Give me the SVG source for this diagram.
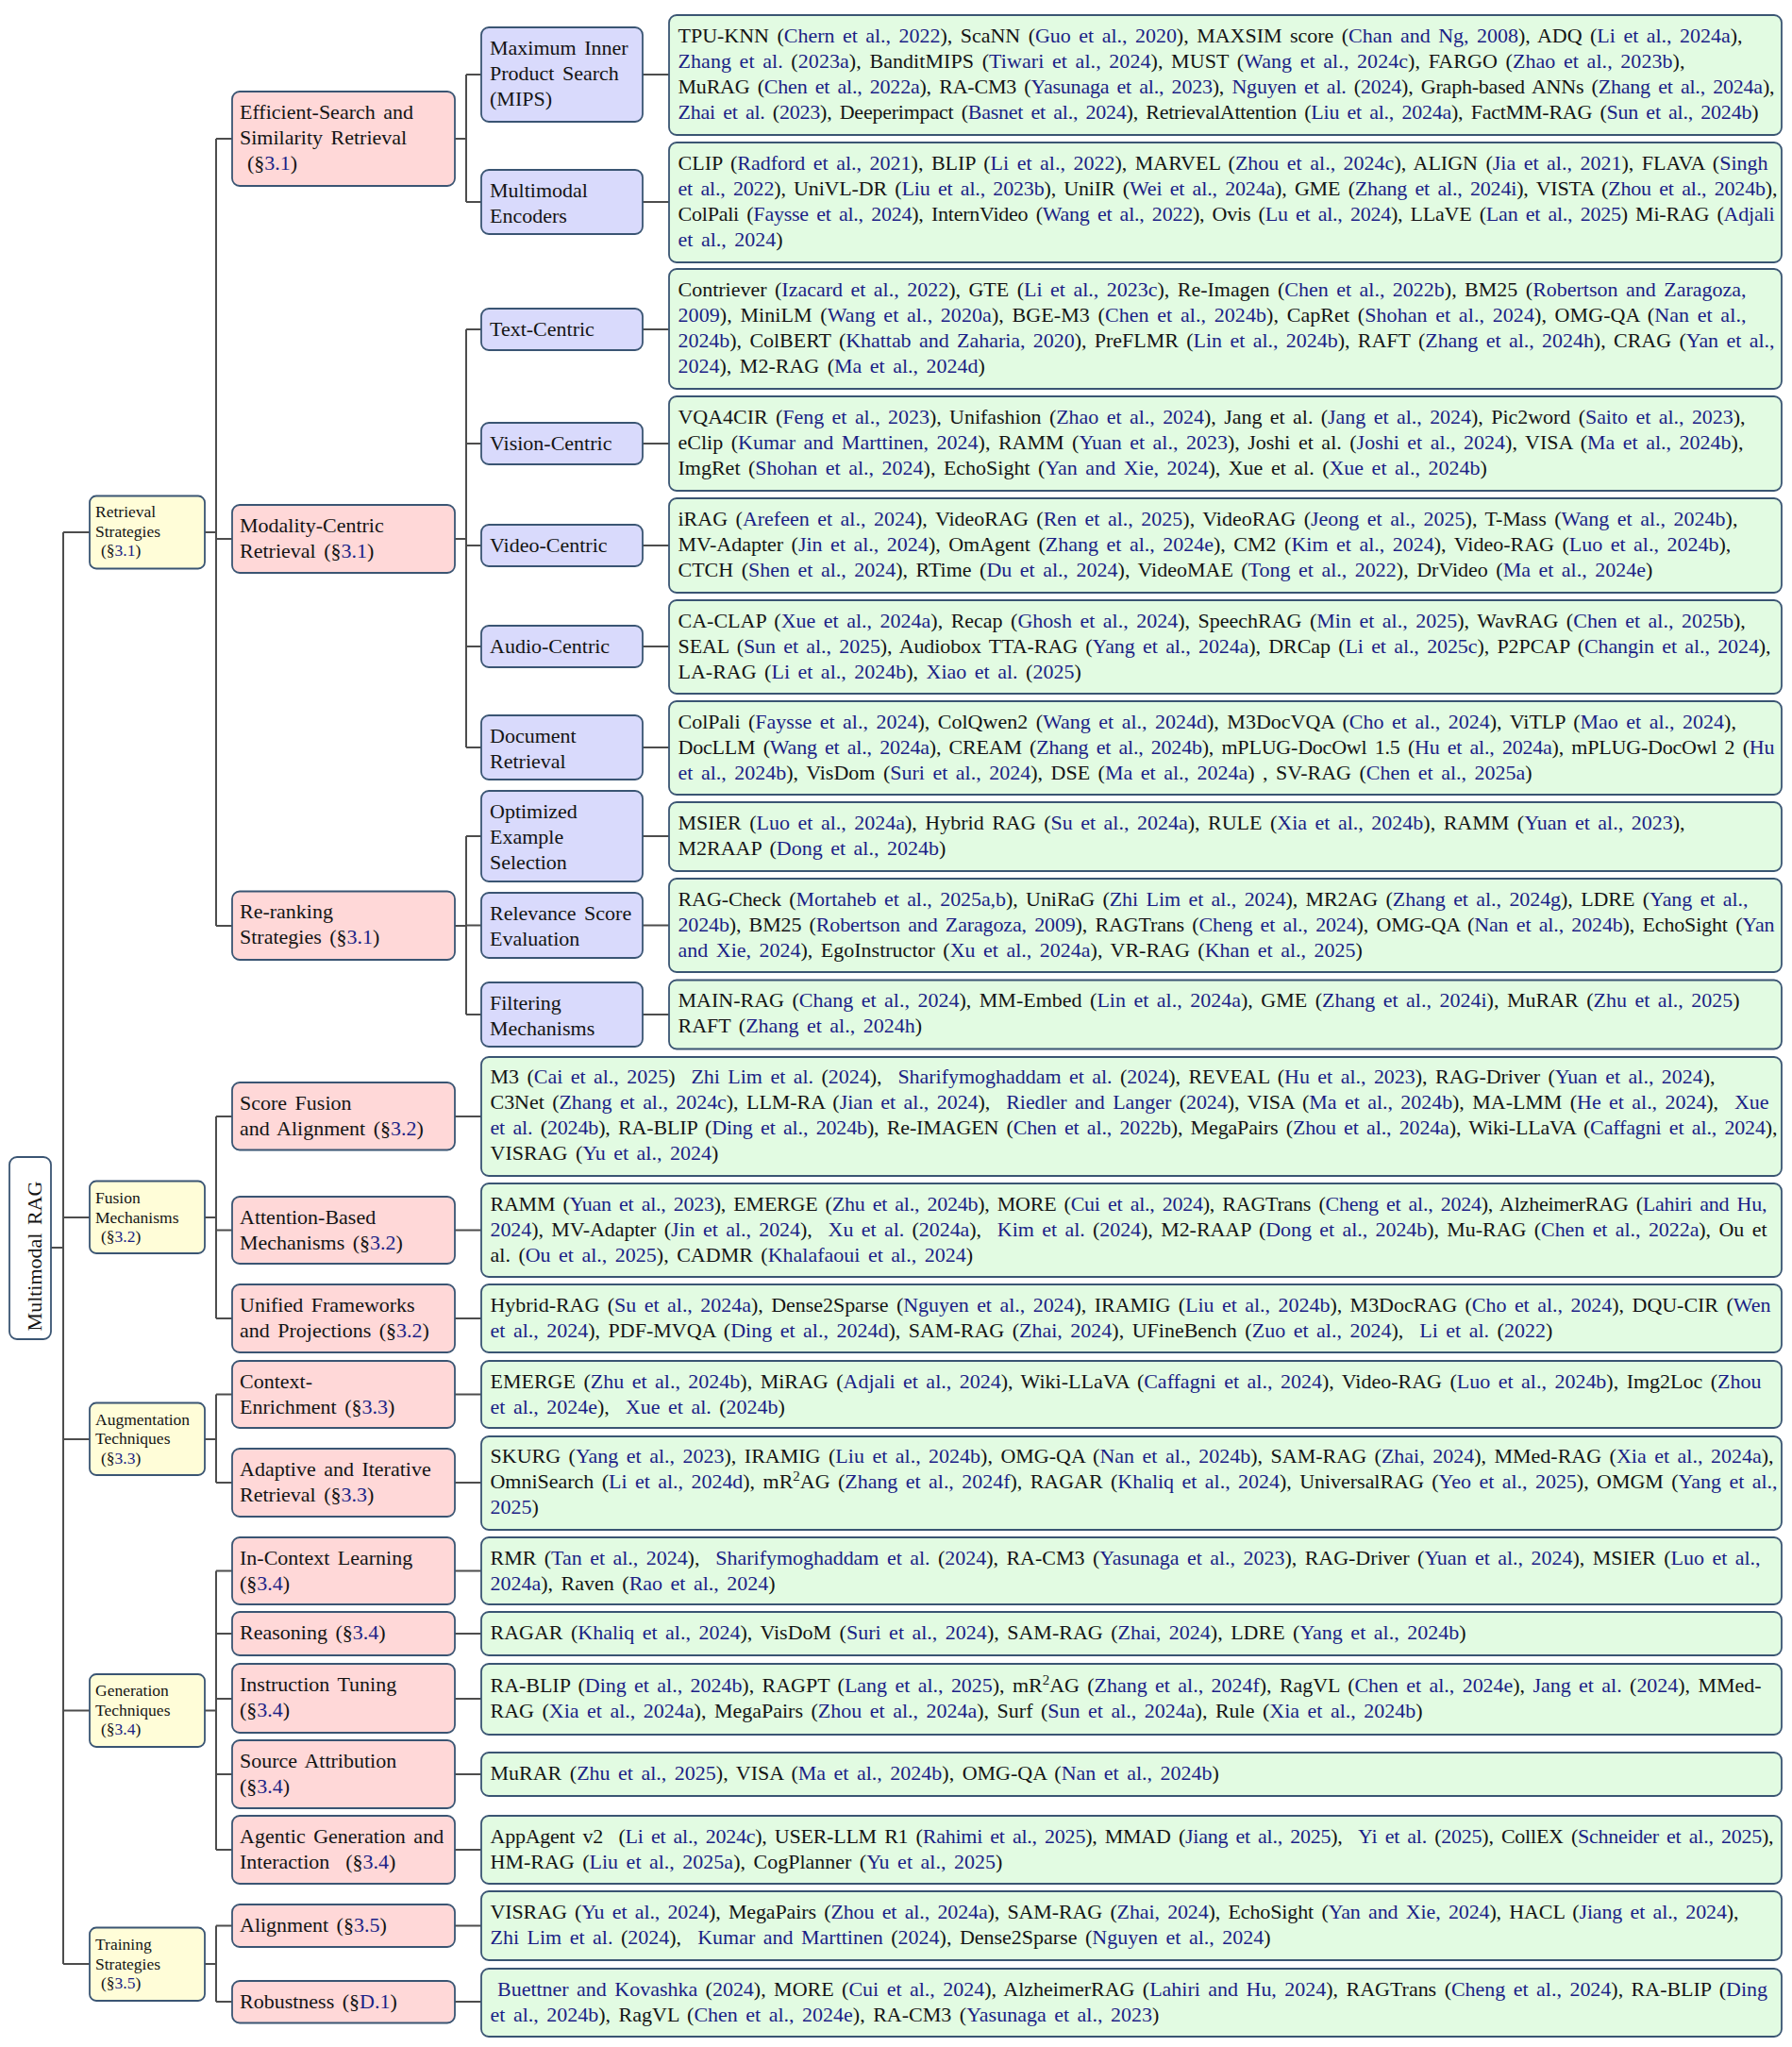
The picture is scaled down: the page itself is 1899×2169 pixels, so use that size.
<svg xmlns="http://www.w3.org/2000/svg" width="1899" height="2169" viewBox="0 0 1899 2169" xml:space="preserve">
<style>
.n rect { stroke: #3a5573; stroke-width: 1.8; }
.root rect { fill: #ffffff; }
.l1 rect { fill: #fffdd8; }
.l2 rect { fill: #ffd8d8; }
.l3 rect { fill: #d9dafc; }
.lf rect { fill: #e2fbe2; }
text { font-family: "Liberation Serif", "Times New Roman", serif; fill: #141414; font-size: 22px; word-spacing: 3px; }
.l1 text { font-size: 17.5px; word-spacing: 1px; }
.c { fill: #1b1f86; }
#connectors path { fill: none; stroke: #4d4d4d; stroke-width: 2; }
</style>
<rect width="1899" height="2169" fill="#ffffff"/>

<!-- tree connectors -->
<g id="connectors">
<path d="M54 1322 H67 M67 564 V2081 M67 564 H95 M67 1290 H95 M67 1525 H95 M67 1812.5 H95 M67 2081 H95"/>
<path d="M217 564 H229 M229 147 V981 M229 147 H246 M229 571 H246 M229 981 H246"/>
<path d="M217 1290 H229 M229 1183 V1397 M229 1183 H246 M229 1303.5 H246 M229 1397 H246"/>
<path d="M217 1525 H229 M229 1477.5 V1571 M229 1477.5 H246 M229 1571 H246"/>
<path d="M217 1812.5 H229 M229 1664.5 V1960 M229 1664.5 H246 M229 1731 H246 M229 1800 H246 M229 1880 H246 M229 1960 H246"/>
<path d="M217 2081 H229 M229 2040.5 V2121 M229 2040.5 H246 M229 2121 H246"/>
<path d="M482 147 H494 M494 79 V214 M494 79 H510 M494 214 H510"/>
<path d="M482 571 H494 M494 349 V792 M494 349 H510 M494 470 H510 M494 578 H510 M494 685 H510 M494 792 H510"/>
<path d="M482 981 H494 M494 886 V1075 M494 886 H510 M494 980.5 H510 M494 1075 H510"/>
<path d="M681 79 H709 M681 214 H709 M681 349 H709 M681 470 H709 M681 578 H709 M681 685 H709 M681 792 H709 M681 886 H709 M681 980.5 H709 M681 1075 H709"/>
<path d="M482 1183 H510 M482 1303.5 H510 M482 1397 H510 M482 1477.5 H510 M482 1571 H510 M482 1664.5 H510 M482 1731 H510 M482 1800 H510 M482 1880 H510 M482 1960 H510 M482 2040.5 H510 M482 2121 H510"/>
</g>

<!-- root -->
<g id="root" class="n root">
<rect x="10" y="1226" width="44" height="193" rx="8"/>
<text transform="translate(43.5,1331) rotate(-90)" text-anchor="middle">Multimodal RAG</text>
</g>

<!-- level 1 -->
<g id="retrieval-strategies" class="n l1">
<rect x="95" y="525.5" width="122" height="77" rx="7"/>
<text x="101" y="548">Retrieval</text>
<text x="101" y="568.5">Strategies</text>
<text x="107" y="589">(§<tspan class="c">3.1</tspan>)</text>
</g>
<g id="fusion-mechanisms" class="n l1">
<rect x="95" y="1251.5" width="122" height="76.5" rx="7"/>
<text x="101" y="1275">Fusion</text>
<text x="101" y="1295.5">Mechanisms</text>
<text x="107" y="1316">(§<tspan class="c">3.2</tspan>)</text>
</g>
<g id="augmentation-techniques" class="n l1">
<rect x="95" y="1486.5" width="122" height="76.5" rx="7"/>
<text x="101" y="1509.5">Augmentation</text>
<text x="101" y="1530">Techniques</text>
<text x="107" y="1550.5">(§<tspan class="c">3.3</tspan>)</text>
</g>
<g id="generation-techniques" class="n l1">
<rect x="95" y="1774" width="122" height="77" rx="7"/>
<text x="101" y="1797">Generation</text>
<text x="101" y="1817.5">Techniques</text>
<text x="107" y="1838">(§<tspan class="c">3.4</tspan>)</text>
</g>
<g id="training-strategies" class="n l1">
<rect x="95" y="2042.5" width="122" height="77.5" rx="7"/>
<text x="101" y="2066">Training</text>
<text x="101" y="2086.5">Strategies</text>
<text x="107" y="2107">(§<tspan class="c">3.5</tspan>)</text>
</g>

<!-- level 2 -->
<g id="efficient-search" class="n l2">
<rect x="246" y="97" width="236" height="100" rx="8"/>
<text x="254" y="125.5">Efficient-Search and</text>
<text x="254" y="152.5">Similarity Retrieval</text>
<text x="262" y="179.5">(§<tspan class="c">3.1</tspan>)</text>
</g>
<g id="modality-centric" class="n l2">
<rect x="246" y="535" width="236" height="72" rx="8"/>
<text x="254" y="563.5">Modality-Centric</text>
<text x="254" y="590.5">Retrieval (§<tspan class="c">3.1</tspan>)</text>
</g>
<g id="re-ranking" class="n l2">
<rect x="246" y="944.5" width="236" height="72.5" rx="8"/>
<text x="254" y="973">Re-ranking</text>
<text x="254" y="1000">Strategies (§<tspan class="c">3.1</tspan>)</text>
</g>
<g id="score-fusion" class="n l2">
<rect x="246" y="1147" width="236" height="71.5" rx="8"/>
<text x="254" y="1175.5">Score Fusion</text>
<text x="254" y="1202.5">and Alignment (§<tspan class="c">3.2</tspan>)</text>
</g>
<g id="attention-based" class="n l2">
<rect x="246" y="1268" width="236" height="71" rx="8"/>
<text x="254" y="1296.5">Attention-Based</text>
<text x="254" y="1323.5">Mechanisms (§<tspan class="c">3.2</tspan>)</text>
</g>
<g id="unified-frameworks" class="n l2">
<rect x="246" y="1361" width="236" height="72" rx="8"/>
<text x="254" y="1389.5">Unified Frameworks</text>
<text x="254" y="1416.5">and Projections (§<tspan class="c">3.2</tspan>)</text>
</g>
<g id="context-enrichment" class="n l2">
<rect x="246" y="1442" width="236" height="71" rx="8"/>
<text x="254" y="1470.5">Context-</text>
<text x="254" y="1497.5">Enrichment (§<tspan class="c">3.3</tspan>)</text>
</g>
<g id="adaptive-retrieval" class="n l2">
<rect x="246" y="1535" width="236" height="72" rx="8"/>
<text x="254" y="1563.5">Adaptive and Iterative</text>
<text x="254" y="1590.5">Retrieval (§<tspan class="c">3.3</tspan>)</text>
</g>
<g id="in-context-learning" class="n l2">
<rect x="246" y="1629" width="236" height="71" rx="8"/>
<text x="254" y="1657.5">In-Context Learning</text>
<text x="254" y="1684.5">(§<tspan class="c">3.4</tspan>)</text>
</g>
<g id="reasoning" class="n l2">
<rect x="246" y="1708" width="236" height="46" rx="8"/>
<text x="254" y="1737">Reasoning (§<tspan class="c">3.4</tspan>)</text>
</g>
<g id="instruction-tuning" class="n l2">
<rect x="246" y="1763" width="236" height="73" rx="8"/>
<text x="254" y="1791.5">Instruction Tuning</text>
<text x="254" y="1818.5">(§<tspan class="c">3.4</tspan>)</text>
</g>
<g id="source-attribution" class="n l2">
<rect x="246" y="1844" width="236" height="72" rx="8"/>
<text x="254" y="1872.5">Source Attribution</text>
<text x="254" y="1899.5">(§<tspan class="c">3.4</tspan>)</text>
</g>
<g id="agentic-generation" class="n l2">
<rect x="246" y="1924" width="236" height="72" rx="8"/>
<text x="254" y="1952.5">Agentic Generation and</text>
<text x="254" y="1979.5">Interaction &#160;(§<tspan class="c">3.4</tspan>)</text>
</g>
<g id="alignment" class="n l2">
<rect x="246" y="2018" width="236" height="45" rx="8"/>
<text x="254" y="2047">Alignment (§<tspan class="c">3.5</tspan>)</text>
</g>
<g id="robustness" class="n l2">
<rect x="246" y="2099" width="236" height="44.5" rx="8"/>
<text x="254" y="2128">Robustness (§<tspan class="c">D.1</tspan>)</text>
</g>

<!-- level 3 -->
<g id="mips" class="n l3">
<rect x="510" y="29" width="171" height="100" rx="8"/>
<text x="519" y="57.5">Maximum Inner</text>
<text x="519" y="84.5">Product Search</text>
<text x="519" y="111.5">(MIPS)</text>
</g>
<g id="multimodal-encoders" class="n l3">
<rect x="510" y="180" width="171" height="68" rx="8"/>
<text x="519" y="208.5">Multimodal</text>
<text x="519" y="235.5">Encoders</text>
</g>
<g id="text-centric" class="n l3">
<rect x="510" y="327" width="171" height="44" rx="8"/>
<text x="519" y="356">Text-Centric</text>
</g>
<g id="vision-centric" class="n l3">
<rect x="510" y="448" width="171" height="44" rx="8"/>
<text x="519" y="477">Vision-Centric</text>
</g>
<g id="video-centric" class="n l3">
<rect x="510" y="556" width="171" height="44" rx="8"/>
<text x="519" y="585">Video-Centric</text>
</g>
<g id="audio-centric" class="n l3">
<rect x="510" y="663" width="171" height="44" rx="8"/>
<text x="519" y="692">Audio-Centric</text>
</g>
<g id="document-retrieval" class="n l3">
<rect x="510" y="758" width="171" height="68" rx="8"/>
<text x="519" y="786.5">Document</text>
<text x="519" y="813.5">Retrieval</text>
</g>
<g id="optimized-example" class="n l3">
<rect x="510" y="838" width="171" height="96" rx="8"/>
<text x="519" y="866.5">Optimized</text>
<text x="519" y="893.5">Example</text>
<text x="519" y="920.5">Selection</text>
</g>
<g id="relevance-score" class="n l3">
<rect x="510" y="946" width="171" height="69" rx="8"/>
<text x="519" y="974.5">Relevance Score</text>
<text x="519" y="1001.5">Evaluation</text>
</g>
<g id="filtering" class="n l3">
<rect x="510" y="1041" width="171" height="68" rx="8"/>
<text x="519" y="1069.5">Filtering</text>
<text x="519" y="1096.5">Mechanisms</text>
</g>

<!-- leaves: method lists -->
<g id="leaf-mips" class="n lf">
<rect x="709" y="16" width="1179" height="127" rx="8"/>
<text x="718.5" y="44.5" textLength="1128">TPU-KNN (<tspan class="c">Chern et al., 2022</tspan>), ScaNN (<tspan class="c">Guo et al., 2020</tspan>), MAXSIM score (<tspan class="c">Chan and Ng, 2008</tspan>), ADQ (<tspan class="c">Li et al., 2024a</tspan>),</text>
<text x="718.5" y="71.5" textLength="1067"><tspan class="c">Zhang et al.</tspan> (<tspan class="c">2023a</tspan>), BanditMIPS (<tspan class="c">Tiwari et al., 2024</tspan>), MUST (<tspan class="c">Wang et al., 2024c</tspan>), FARGO (<tspan class="c">Zhao et al., 2023b</tspan>),</text>
<text x="718.5" y="98.5" textLength="1162">MuRAG (<tspan class="c">Chen et al., 2022a</tspan>), RA-CM3 (<tspan class="c">Yasunaga et al., 2023</tspan>), <tspan class="c">Nguyen et al.</tspan> (<tspan class="c">2024</tspan>), Graph-based ANNs (<tspan class="c">Zhang et al., 2024a</tspan>),</text>
<text x="718.5" y="125.5" textLength="1145"><tspan class="c">Zhai et al.</tspan> (<tspan class="c">2023</tspan>), Deeperimpact (<tspan class="c">Basnet et al., 2024</tspan>), RetrievalAttention (<tspan class="c">Liu et al., 2024a</tspan>), FactMM-RAG (<tspan class="c">Sun et al., 2024b</tspan>)</text>
</g>
<g id="leaf-encoders" class="n lf">
<rect x="709" y="151" width="1179" height="127" rx="8"/>
<text x="718.5" y="179.5" textLength="1155">CLIP (<tspan class="c">Radford et al., 2021</tspan>), BLIP (<tspan class="c">Li et al., 2022</tspan>), MARVEL (<tspan class="c">Zhou et al., 2024c</tspan>), ALIGN (<tspan class="c">Jia et al., 2021</tspan>), FLAVA (<tspan class="c">Singh</tspan></text>
<text x="718.5" y="206.5" textLength="1165"><tspan class="c">et al., 2022</tspan>), UniVL-DR (<tspan class="c">Liu et al., 2023b</tspan>), UniIR (<tspan class="c">Wei et al., 2024a</tspan>), GME (<tspan class="c">Zhang et al., 2024i</tspan>), VISTA (<tspan class="c">Zhou et al., 2024b</tspan>),</text>
<text x="718.5" y="233.5" textLength="1162">ColPali (<tspan class="c">Faysse et al., 2024</tspan>), InternVideo (<tspan class="c">Wang et al., 2022</tspan>), Ovis (<tspan class="c">Lu et al., 2024</tspan>), LLaVE (<tspan class="c">Lan et al., 2025</tspan>) Mi-RAG (<tspan class="c">Adjali</tspan></text>
<text x="718.5" y="260.5"><tspan class="c">et al., 2024</tspan>)</text>
</g>
<g id="leaf-text-centric" class="n lf">
<rect x="709" y="285" width="1179" height="127" rx="8"/>
<text x="718.5" y="313.5" textLength="1132">Contriever (<tspan class="c">Izacard et al., 2022</tspan>), GTE (<tspan class="c">Li et al., 2023c</tspan>), Re-Imagen (<tspan class="c">Chen et al., 2022b</tspan>), BM25 (<tspan class="c">Robertson and Zaragoza,</tspan></text>
<text x="718.5" y="340.5" textLength="1132"><tspan class="c">2009</tspan>), MiniLM (<tspan class="c">Wang et al., 2020a</tspan>), BGE-M3 (<tspan class="c">Chen et al., 2024b</tspan>), CapRet (<tspan class="c">Shohan et al., 2024</tspan>), OMG-QA (<tspan class="c">Nan et al.,</tspan></text>
<text x="718.5" y="367.5" textLength="1162"><tspan class="c">2024b</tspan>), ColBERT (<tspan class="c">Khattab and Zaharia, 2020</tspan>), PreFLMR (<tspan class="c">Lin et al., 2024b</tspan>), RAFT (<tspan class="c">Zhang et al., 2024h</tspan>), CRAG (<tspan class="c">Yan et al.,</tspan></text>
<text x="718.5" y="394.5"><tspan class="c">2024</tspan>), M2-RAG (<tspan class="c">Ma et al., 2024d</tspan>)</text>
</g>
<g id="leaf-vision-centric" class="n lf">
<rect x="709" y="420" width="1179" height="100" rx="8"/>
<text x="718.5" y="448.5" textLength="1131">VQA4CIR (<tspan class="c">Feng et al., 2023</tspan>), Unifashion (<tspan class="c">Zhao et al., 2024</tspan>), Jang et al. (<tspan class="c">Jang et al., 2024</tspan>), Pic2word (<tspan class="c">Saito et al., 2023</tspan>),</text>
<text x="718.5" y="475.5">eClip (<tspan class="c">Kumar and Marttinen, 2024</tspan>), RAMM (<tspan class="c">Yuan et al., 2023</tspan>), Joshi et al. (<tspan class="c">Joshi et al., 2024</tspan>), VISA (<tspan class="c">Ma et al., 2024b</tspan>),</text>
<text x="718.5" y="502.5">ImgRet (<tspan class="c">Shohan et al., 2024</tspan>), EchoSight (<tspan class="c">Yan and Xie, 2024</tspan>), Xue et al. (<tspan class="c">Xue et al., 2024b</tspan>)</text>
</g>
<g id="leaf-video-centric" class="n lf">
<rect x="709" y="528" width="1179" height="100" rx="8"/>
<text x="718.5" y="556.5">iRAG (<tspan class="c">Arefeen et al., 2024</tspan>), VideoRAG (<tspan class="c">Ren et al., 2025</tspan>), VideoRAG (<tspan class="c">Jeong et al., 2025</tspan>), T-Mass (<tspan class="c">Wang et al., 2024b</tspan>),</text>
<text x="718.5" y="583.5">MV-Adapter (<tspan class="c">Jin et al., 2024</tspan>), OmAgent (<tspan class="c">Zhang et al., 2024e</tspan>), CM2 (<tspan class="c">Kim et al., 2024</tspan>), Video-RAG (<tspan class="c">Luo et al., 2024b</tspan>),</text>
<text x="718.5" y="610.5">CTCH (<tspan class="c">Shen et al., 2024</tspan>), RTime (<tspan class="c">Du et al., 2024</tspan>), VideoMAE (<tspan class="c">Tong et al., 2022</tspan>), DrVideo (<tspan class="c">Ma et al., 2024e</tspan>)</text>
</g>
<g id="leaf-audio-centric" class="n lf">
<rect x="709" y="636" width="1179" height="99" rx="8"/>
<text x="718.5" y="664.5">CA-CLAP (<tspan class="c">Xue et al., 2024a</tspan>), Recap (<tspan class="c">Ghosh et al., 2024</tspan>), SpeechRAG (<tspan class="c">Min et al., 2025</tspan>), WavRAG (<tspan class="c">Chen et al., 2025b</tspan>),</text>
<text x="718.5" y="691.5" textLength="1158">SEAL (<tspan class="c">Sun et al., 2025</tspan>), Audiobox TTA-RAG (<tspan class="c">Yang et al., 2024a</tspan>), DRCap (<tspan class="c">Li et al., 2025c</tspan>), P2PCAP (<tspan class="c">Changin et al., 2024</tspan>),</text>
<text x="718.5" y="718.5">LA-RAG (<tspan class="c">Li et al., 2024b</tspan>), <tspan class="c">Xiao et al.</tspan> (<tspan class="c">2025</tspan>)</text>
</g>
<g id="leaf-document-retrieval" class="n lf">
<rect x="709" y="743" width="1179" height="99" rx="8"/>
<text x="718.5" y="771.5">ColPali (<tspan class="c">Faysse et al., 2024</tspan>), ColQwen2 (<tspan class="c">Wang et al., 2024d</tspan>), M3DocVQA (<tspan class="c">Cho et al., 2024</tspan>), ViTLP (<tspan class="c">Mao et al., 2024</tspan>),</text>
<text x="718.5" y="798.5" textLength="1162">DocLLM (<tspan class="c">Wang et al., 2024a</tspan>), CREAM (<tspan class="c">Zhang et al., 2024b</tspan>), mPLUG-DocOwl 1.5 (<tspan class="c">Hu et al., 2024a</tspan>), mPLUG-DocOwl 2 (<tspan class="c">Hu</tspan></text>
<text x="718.5" y="825.5"><tspan class="c">et al., 2024b</tspan>), VisDom (<tspan class="c">Suri et al., 2024</tspan>), DSE (<tspan class="c">Ma et al., 2024a</tspan>) , SV-RAG (<tspan class="c">Chen et al., 2025a</tspan>)</text>
</g>
<g id="leaf-optimized-example" class="n lf">
<rect x="709" y="850" width="1179" height="73" rx="8"/>
<text x="718.5" y="878.5">MSIER (<tspan class="c">Luo et al., 2024a</tspan>), Hybrid RAG (<tspan class="c">Su et al., 2024a</tspan>), RULE (<tspan class="c">Xia et al., 2024b</tspan>), RAMM (<tspan class="c">Yuan et al., 2023</tspan>),</text>
<text x="718.5" y="905.5">M2RAAP (<tspan class="c">Dong et al., 2024b</tspan>)</text>
</g>
<g id="leaf-relevance-score" class="n lf">
<rect x="709" y="931" width="1179" height="99" rx="8"/>
<text x="718.5" y="959.5" textLength="1134">RAG-Check (<tspan class="c">Mortaheb et al., 2025a,b</tspan>), UniRaG (<tspan class="c">Zhi Lim et al., 2024</tspan>), MR2AG (<tspan class="c">Zhang et al., 2024g</tspan>), LDRE (<tspan class="c">Yang et al.,</tspan></text>
<text x="718.5" y="986.5" textLength="1162"><tspan class="c">2024b</tspan>), BM25 (<tspan class="c">Robertson and Zaragoza, 2009</tspan>), RAGTrans (<tspan class="c">Cheng et al., 2024</tspan>), OMG-QA (<tspan class="c">Nan et al., 2024b</tspan>), EchoSight (<tspan class="c">Yan</tspan></text>
<text x="718.5" y="1013.5"><tspan class="c">and Xie, 2024</tspan>), EgoInstructor (<tspan class="c">Xu et al., 2024a</tspan>), VR-RAG (<tspan class="c">Khan et al., 2025</tspan>)</text>
</g>
<g id="leaf-filtering" class="n lf">
<rect x="709" y="1038.5" width="1179" height="73" rx="8"/>
<text x="718.5" y="1067">MAIN-RAG (<tspan class="c">Chang et al., 2024</tspan>), MM-Embed (<tspan class="c">Lin et al., 2024a</tspan>), GME (<tspan class="c">Zhang et al., 2024i</tspan>), MuRAR (<tspan class="c">Zhu et al., 2025</tspan>)</text>
<text x="718.5" y="1094">RAFT (<tspan class="c">Zhang et al., 2024h</tspan>)</text>
</g>
<g id="leaf-score-fusion" class="n lf">
<rect x="510" y="1120" width="1378" height="126" rx="8"/>
<text x="519.5" y="1148" textLength="1298">M3 (<tspan class="c">Cai et al., 2025</tspan>) &#160;<tspan class="c">Zhi Lim et al.</tspan> (<tspan class="c">2024</tspan>), &#160;<tspan class="c">Sharifymoghaddam et al.</tspan> (<tspan class="c">2024</tspan>), REVEAL (<tspan class="c">Hu et al., 2023</tspan>), RAG-Driver (<tspan class="c">Yuan et al., 2024</tspan>),</text>
<text x="519.5" y="1175" textLength="1355">C3Net (<tspan class="c">Zhang et al., 2024c</tspan>), LLM-RA (<tspan class="c">Jian et al., 2024</tspan>), &#160;<tspan class="c">Riedler and Langer</tspan> (<tspan class="c">2024</tspan>), VISA (<tspan class="c">Ma et al., 2024b</tspan>), MA-LMM (<tspan class="c">He et al., 2024</tspan>), &#160;<tspan class="c">Xue</tspan></text>
<text x="519.5" y="1202" textLength="1364"><tspan class="c">et al.</tspan> (<tspan class="c">2024b</tspan>), RA-BLIP (<tspan class="c">Ding et al., 2024b</tspan>), Re-IMAGEN (<tspan class="c">Chen et al., 2022b</tspan>), MegaPairs (<tspan class="c">Zhou et al., 2024a</tspan>), Wiki-LLaVA (<tspan class="c">Caffagni et al., 2024</tspan>),</text>
<text x="519.5" y="1229">VISRAG (<tspan class="c">Yu et al., 2024</tspan>)</text>
</g>
<g id="leaf-attention-based" class="n lf">
<rect x="510" y="1254" width="1378" height="99" rx="8"/>
<text x="519.5" y="1282.5" textLength="1353">RAMM (<tspan class="c">Yuan et al., 2023</tspan>), EMERGE (<tspan class="c">Zhu et al., 2024b</tspan>), MORE (<tspan class="c">Cui et al., 2024</tspan>), RAGTrans (<tspan class="c">Cheng et al., 2024</tspan>), AlzheimerRAG (<tspan class="c">Lahiri and Hu,</tspan></text>
<text x="519.5" y="1309.5" textLength="1353"><tspan class="c">2024</tspan>), MV-Adapter (<tspan class="c">Jin et al., 2024</tspan>), &#160;<tspan class="c">Xu et al.</tspan> (<tspan class="c">2024a</tspan>), &#160;<tspan class="c">Kim et al.</tspan> (<tspan class="c">2024</tspan>), M2-RAAP (<tspan class="c">Dong et al., 2024b</tspan>), Mu-RAG (<tspan class="c">Chen et al., 2022a</tspan>), Ou et</text>
<text x="519.5" y="1336.5">al. (<tspan class="c">Ou et al., 2025</tspan>), CADMR (<tspan class="c">Khalafaoui et al., 2024</tspan>)</text>
</g>
<g id="leaf-unified-frameworks" class="n lf">
<rect x="510" y="1361" width="1378" height="72" rx="8"/>
<text x="519.5" y="1389.5" textLength="1357">Hybrid-RAG (<tspan class="c">Su et al., 2024a</tspan>), Dense2Sparse (<tspan class="c">Nguyen et al., 2024</tspan>), IRAMIG (<tspan class="c">Liu et al., 2024b</tspan>), M3DocRAG (<tspan class="c">Cho et al., 2024</tspan>), DQU-CIR (<tspan class="c">Wen</tspan></text>
<text x="519.5" y="1416.5"><tspan class="c">et al., 2024</tspan>), PDF-MVQA (<tspan class="c">Ding et al., 2024d</tspan>), SAM-RAG (<tspan class="c">Zhai, 2024</tspan>), UFineBench (<tspan class="c">Zuo et al., 2024</tspan>), &#160;<tspan class="c">Li et al.</tspan> (<tspan class="c">2022</tspan>)</text>
</g>
<g id="leaf-context-enrichment" class="n lf">
<rect x="510" y="1442" width="1378" height="71" rx="8"/>
<text x="519.5" y="1470.5" textLength="1347">EMERGE (<tspan class="c">Zhu et al., 2024b</tspan>), MiRAG (<tspan class="c">Adjali et al., 2024</tspan>), Wiki-LLaVA (<tspan class="c">Caffagni et al., 2024</tspan>), Video-RAG (<tspan class="c">Luo et al., 2024b</tspan>), Img2Loc (<tspan class="c">Zhou</tspan></text>
<text x="519.5" y="1497.5"><tspan class="c">et al., 2024e</tspan>), &#160;<tspan class="c">Xue et al.</tspan> (<tspan class="c">2024b</tspan>)</text>
</g>
<g id="leaf-adaptive-retrieval" class="n lf">
<rect x="510" y="1522" width="1378" height="99" rx="8"/>
<text x="519.5" y="1550" textLength="1360">SKURG (<tspan class="c">Yang et al., 2023</tspan>), IRAMIG (<tspan class="c">Liu et al., 2024b</tspan>), OMG-QA (<tspan class="c">Nan et al., 2024b</tspan>), SAM-RAG (<tspan class="c">Zhai, 2024</tspan>), MMed-RAG (<tspan class="c">Xia et al., 2024a</tspan>),</text>
<text x="519.5" y="1577" textLength="1364">OmniSearch (<tspan class="c">Li et al., 2024d</tspan>), mR<tspan dy="-8" font-size="15">2</tspan><tspan dy="8">AG (</tspan><tspan class="c">Zhang et al., 2024f</tspan>), RAGAR (<tspan class="c">Khaliq et al., 2024</tspan>), UniversalRAG (<tspan class="c">Yeo et al., 2025</tspan>), OMGM (<tspan class="c">Yang et al.,</tspan></text>
<text x="519.5" y="1604"><tspan class="c">2025</tspan>)</text>
</g>
<g id="leaf-in-context-learning" class="n lf">
<rect x="510" y="1629" width="1378" height="71" rx="8"/>
<text x="519.5" y="1657.5" textLength="1346">RMR (<tspan class="c">Tan et al., 2024</tspan>), &#160;<tspan class="c">Sharifymoghaddam et al.</tspan> (<tspan class="c">2024</tspan>), RA-CM3 (<tspan class="c">Yasunaga et al., 2023</tspan>), RAG-Driver (<tspan class="c">Yuan et al., 2024</tspan>), MSIER (<tspan class="c">Luo et al.,</tspan></text>
<text x="519.5" y="1684.5"><tspan class="c">2024a</tspan>), Raven (<tspan class="c">Rao et al., 2024</tspan>)</text>
</g>
<g id="leaf-reasoning" class="n lf">
<rect x="510" y="1708" width="1378" height="46" rx="8"/>
<text x="519.5" y="1737">RAGAR (<tspan class="c">Khaliq et al., 2024</tspan>), VisDoM (<tspan class="c">Suri et al., 2024</tspan>), SAM-RAG (<tspan class="c">Zhai, 2024</tspan>), LDRE (<tspan class="c">Yang et al., 2024b</tspan>)</text>
</g>
<g id="leaf-instruction-tuning" class="n lf">
<rect x="510" y="1763" width="1378" height="75" rx="8"/>
<text x="519.5" y="1792.5" textLength="1347">RA-BLIP (<tspan class="c">Ding et al., 2024b</tspan>), RAGPT (<tspan class="c">Lang et al., 2025</tspan>), mR<tspan dy="-8" font-size="15">2</tspan><tspan dy="8">AG (</tspan><tspan class="c">Zhang et al., 2024f</tspan>), RagVL (<tspan class="c">Chen et al., 2024e</tspan>), <tspan class="c">Jang et al.</tspan> (<tspan class="c">2024</tspan>), MMed-</text>
<text x="519.5" y="1819.5">RAG (<tspan class="c">Xia et al., 2024a</tspan>), MegaPairs (<tspan class="c">Zhou et al., 2024a</tspan>), Surf (<tspan class="c">Sun et al., 2024a</tspan>), Rule (<tspan class="c">Xia et al., 2024b</tspan>)</text>
</g>
<g id="leaf-source-attribution" class="n lf">
<rect x="510" y="1857" width="1378" height="46" rx="8"/>
<text x="519.5" y="1885.5">MuRAR (<tspan class="c">Zhu et al., 2025</tspan>), VISA (<tspan class="c">Ma et al., 2024b</tspan>), OMG-QA (<tspan class="c">Nan et al., 2024b</tspan>)</text>
</g>
<g id="leaf-agentic-generation" class="n lf">
<rect x="510" y="1924" width="1378" height="72" rx="8"/>
<text x="519.5" y="1952.5" textLength="1360">AppAgent v2 &#160;(<tspan class="c">Li et al., 2024c</tspan>), USER-LLM R1 (<tspan class="c">Rahimi et al., 2025</tspan>), MMAD (<tspan class="c">Jiang et al., 2025</tspan>), &#160;<tspan class="c">Yi et al.</tspan> (<tspan class="c">2025</tspan>), CollEX (<tspan class="c">Schneider et al., 2025</tspan>),</text>
<text x="519.5" y="1979.5">HM-RAG (<tspan class="c">Liu et al., 2025a</tspan>), CogPlanner (<tspan class="c">Yu et al., 2025</tspan>)</text>
</g>
<g id="leaf-alignment" class="n lf">
<rect x="510" y="2004" width="1378" height="73" rx="8"/>
<text x="519.5" y="2032.5" textLength="1323">VISRAG (<tspan class="c">Yu et al., 2024</tspan>), MegaPairs (<tspan class="c">Zhou et al., 2024a</tspan>), SAM-RAG (<tspan class="c">Zhai, 2024</tspan>), EchoSight (<tspan class="c">Yan and Xie, 2024</tspan>), HACL (<tspan class="c">Jiang et al., 2024</tspan>),</text>
<text x="519.5" y="2059.5"><tspan class="c">Zhi Lim et al.</tspan> (<tspan class="c">2024</tspan>), &#160;<tspan class="c">Kumar and Marttinen</tspan> (<tspan class="c">2024</tspan>), Dense2Sparse (<tspan class="c">Nguyen et al., 2024</tspan>)</text>
</g>
<g id="leaf-robustness" class="n lf">
<rect x="510" y="2086" width="1378" height="72" rx="8"/>
<text x="527" y="2114.5" textLength="1346"><tspan class="c">Buettner and Kovashka</tspan> (<tspan class="c">2024</tspan>), MORE (<tspan class="c">Cui et al., 2024</tspan>), AlzheimerRAG (<tspan class="c">Lahiri and Hu, 2024</tspan>), RAGTrans (<tspan class="c">Cheng et al., 2024</tspan>), RA-BLIP (<tspan class="c">Ding</tspan></text>
<text x="519.5" y="2141.5"><tspan class="c">et al., 2024b</tspan>), RagVL (<tspan class="c">Chen et al., 2024e</tspan>), RA-CM3 (<tspan class="c">Yasunaga et al., 2023</tspan>)</text>
</g>
</svg>
